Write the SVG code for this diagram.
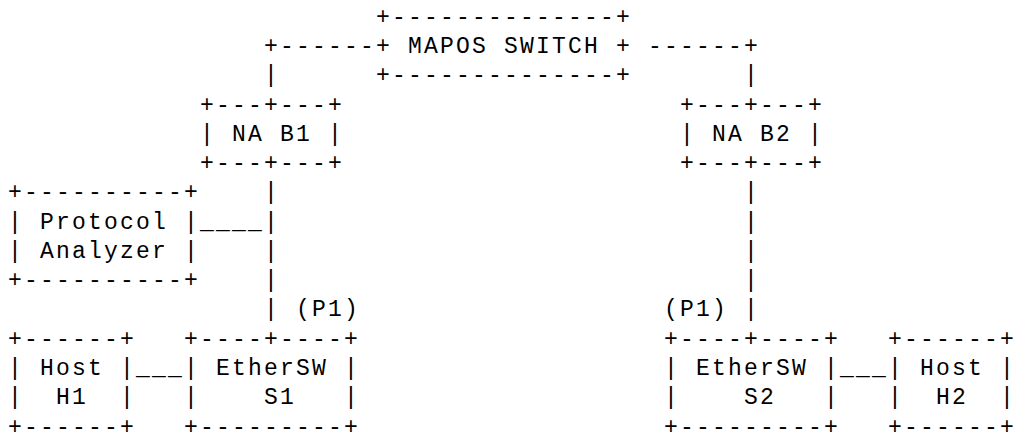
<svg xmlns="http://www.w3.org/2000/svg" width="1017" height="438" viewBox="0 0 1017 438" xml:space="preserve">
<style>
text { font-family: "Liberation Mono", "DejaVu Sans Mono", monospace; font-size: 23px; letter-spacing: 2.2px; white-space: pre; fill: #000; }
</style>
<rect width="1017" height="438" fill="#fff"/>
<g id="connectors">
<text x="264" y="53">+------</text>
<text x="648" y="53">------+</text>
<text x="264" y="82.2">|</text>
<text x="744" y="82.2">|</text>
<text x="264" y="199.3">|</text>
<text x="744" y="199.3">|</text>
<text x="200" y="228.6">____|</text>
<text x="744" y="228.6">|</text>
<text x="264" y="257.9">|</text>
<text x="744" y="257.9">|</text>
<text x="264" y="287.1">|</text>
<text x="744" y="287.1">|</text>
<text x="264" y="316.4">| (P1)</text>
<text x="664" y="316.4">(P1) |</text>
<text x="136" y="375">___</text>
<text x="840" y="375">___</text>
</g>
<g id="mapos-switch">
<text x="376" y="23.7">+--------------+</text>
<text x="376" y="53">+ MAPOS SWITCH +</text>
<text x="376" y="82.2">+--------------+</text>
</g>
<g id="na-b1">
<text x="200" y="111.5">+---+---+</text>
<text x="200" y="140.8">| NA B1 |</text>
<text x="200" y="170.1">+---+---+</text>
</g>
<g id="na-b2">
<text x="680" y="111.5">+---+---+</text>
<text x="680" y="140.8">| NA B2 |</text>
<text x="680" y="170.1">+---+---+</text>
</g>
<g id="protocol-analyzer">
<text x="8" y="199.3">+----------+</text>
<text x="8" y="228.6">| Protocol |</text>
<text x="8" y="257.9">| Analyzer |</text>
<text x="8" y="287.1">+----------+</text>
</g>
<g id="host-h1">
<text x="8" y="345.7">+------+</text>
<text x="8" y="375">| Host |</text>
<text x="8" y="404.2">|  H1  |</text>
<text x="8" y="433.5">+------+</text>
</g>
<g id="ethersw-s1">
<text x="184" y="345.7">+----+----+</text>
<text x="184" y="375">| EtherSW |</text>
<text x="184" y="404.2">|    S1   |</text>
<text x="184" y="433.5">+---------+</text>
</g>
<g id="ethersw-s2">
<text x="664" y="345.7">+----+----+</text>
<text x="664" y="375">| EtherSW |</text>
<text x="664" y="404.2">|    S2   |</text>
<text x="664" y="433.5">+---------+</text>
</g>
<g id="host-h2">
<text x="888" y="345.7">+------+</text>
<text x="888" y="375">| Host |</text>
<text x="888" y="404.2">|  H2  |</text>
<text x="888" y="433.5">+------+</text>
</g>
</svg>
